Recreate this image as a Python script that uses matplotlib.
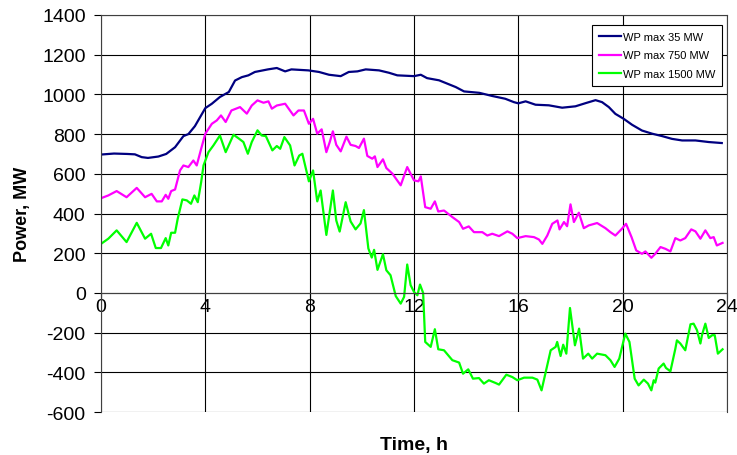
import matplotlib
matplotlib.use('Agg')
import matplotlib.pyplot as plt

plt.rcParams['font.family'] = ['Liberation Sans', 'DejaVu Sans']
plt.rcParams['axes.unicode_minus'] = False

# (hours, MW)
hours_35 = [0, 0.5, 1.0, 1.3, 1.56, 1.8, 2.2, 2.5, 2.84, 3.16, 3.35, 3.6,
            4.0, 4.25, 4.56, 4.9, 5.14, 5.4, 5.65, 5.9, 6.4, 6.74, 7.06,
            7.3, 7.95, 8.36, 8.74, 9.19, 9.5, 9.83, 10.15, 10.66, 11.04,
            11.36, 12.0, 12.26, 12.5, 12.96, 13.28, 13.6, 13.92, 14.5,
            15.0, 15.5, 15.83, 16.0, 16.28, 16.66, 17.17, 17.68, 18.19,
            18.58, 18.96, 19.21, 19.47, 19.72, 20.04, 20.36, 20.74, 21.13,
            21.51, 21.89, 22.28, 22.79, 23.3, 23.8]
mw_35 = [697, 702, 700, 698, 684, 680, 687, 700, 734, 790, 800, 840,
         931, 953, 987, 1012, 1070, 1087, 1096, 1113, 1126, 1133, 1116,
         1126, 1121, 1113, 1099, 1092, 1113, 1116, 1126, 1121, 1109,
         1096, 1092, 1099, 1082, 1071, 1054, 1037, 1015, 1008,
         992, 978, 961, 955, 965, 948, 945, 933, 940,
         956, 971, 961, 936, 902, 877, 847, 818, 802,
         790, 776, 768, 768, 760, 755]

hours_750 = [0, 0.28, 0.6, 0.98, 1.37, 1.69, 1.94, 2.14, 2.33, 2.48, 2.58,
             2.69, 2.84, 3.03, 3.16, 3.35, 3.54, 3.67, 3.84, 4.0, 4.25,
             4.44, 4.6, 4.78, 5.0, 5.33, 5.59, 5.78, 6.0, 6.23, 6.42, 6.55,
             6.74, 7.06, 7.38, 7.57, 7.78, 7.97, 8.13, 8.29, 8.46, 8.64,
             8.77, 8.89, 9.02, 9.19, 9.41, 9.57, 9.76, 9.89, 10.08, 10.21,
             10.4, 10.5, 10.6, 10.81, 10.94, 11.17, 11.49, 11.74, 12.0,
             12.17, 12.26, 12.43, 12.64, 12.8, 12.93, 13.15, 13.47, 13.73,
             13.88, 14.1, 14.3, 14.62, 14.81, 15.0, 15.26, 15.58, 15.77,
             15.96, 16.28, 16.6, 16.79, 16.92, 17.11, 17.3, 17.5, 17.58,
             17.75, 17.87, 18.0, 18.13, 18.32, 18.51, 18.7, 19.02, 19.34,
             19.53, 19.72, 19.97, 20.13, 20.34, 20.52, 20.74, 20.87, 21.1,
             21.25, 21.45, 21.64, 21.83, 22.02, 22.21, 22.4, 22.63, 22.79,
             22.98, 23.17, 23.36, 23.49, 23.61, 23.83]
mw_750 = [477, 491, 513, 482, 529, 482, 499, 461, 461, 494, 474,
          513, 521, 617, 642, 634, 667, 642, 726, 802, 852,
          869, 894, 861, 919, 936, 903, 944, 970, 958, 965, 928,
          944, 953, 894, 919, 919, 852, 877, 802, 824, 709,
          760, 814, 746, 713, 787, 746, 740, 730, 777, 690,
          676, 688, 634, 673, 629, 601, 542, 634, 567,
          562, 587, 432, 424, 461, 410, 415, 382, 357,
          323, 335, 306, 306, 289, 298, 286, 310, 298,
          276, 286, 281, 269, 247, 289, 348, 365, 320,
          357, 336, 446, 357, 404, 326, 340, 352, 326,
          306, 289, 323, 348, 281, 214, 197, 209, 177,
          197, 231, 222, 209, 276, 264, 276, 320, 310,
          273, 315, 276, 281, 239, 252]

hours_1500 = [0, 0.28, 0.6, 0.98, 1.37, 1.69, 1.92, 2.1, 2.3, 2.48, 2.58,
              2.69, 2.84, 2.94, 3.12, 3.29, 3.45, 3.58, 3.71, 3.84, 3.93,
              4.12, 4.31, 4.56, 4.78, 5.08, 5.29, 5.46, 5.63, 5.78, 6.0,
              6.16, 6.32, 6.57, 6.74, 6.87, 7.03, 7.25, 7.42, 7.6, 7.72,
              7.97, 8.13, 8.29, 8.42, 8.64, 8.77, 8.89, 9.02, 9.15, 9.38,
              9.57, 9.76, 9.95, 10.08, 10.25, 10.38, 10.47, 10.6, 10.81,
              10.94, 11.1, 11.3, 11.49, 11.62, 11.74, 11.87, 12.0, 12.13,
              12.23, 12.35, 12.43, 12.64, 12.8, 12.93, 13.15, 13.47, 13.73,
              13.88, 14.08, 14.26, 14.49, 14.68, 14.87, 15.13, 15.26, 15.54,
              15.77, 15.96, 16.22, 16.54, 16.73, 16.89, 17.05, 17.24, 17.43,
              17.49, 17.62, 17.72, 17.84, 17.98, 18.17, 18.33, 18.48, 18.68,
              18.83, 19.02, 19.34, 19.53, 19.69, 19.87, 20.1, 20.26, 20.46,
              20.61, 20.81, 20.97, 21.1, 21.19, 21.25, 21.38, 21.57, 21.66,
              21.83, 22.02, 22.08, 22.21, 22.4, 22.6, 22.72, 22.85, 22.98,
              23.04, 23.17, 23.3, 23.43, 23.53, 23.65, 23.83]
mw_1500 = [247, 273, 315, 256, 353, 273, 298, 226, 226, 276, 239,
           303, 303, 373, 471, 466, 449, 491, 457, 558, 642,
           709, 743, 793, 709, 797, 777, 760, 701, 760, 819,
           793, 790, 718, 740, 726, 785, 743, 642, 692, 701,
           562, 617, 461, 516, 292, 407, 516, 365, 309, 457,
           360, 320, 350, 417, 224, 178, 217, 116, 195,
           114, 89, -16, -54, -20, 143, 39, 5, -12,
           42, 0, -247, -272, -183, -284, -289, -339, -351,
           -407, -385, -432, -429, -457, -440, -454, -462, -412,
           -424, -440, -427, -427, -437, -491, -398, -289, -272,
           -247, -318, -261, -306, -76, -264, -180, -331, -306,
           -331, -306, -314, -339, -373, -331, -205, -247, -432,
           -466, -437, -457, -491, -440, -452, -381, -356, -378,
           -395, -281, -239, -255, -289, -158, -155, -188, -255,
           -213, -155, -227, -213, -213, -306, -284]

labels = ['WP max 35 MW', 'WP max 750 MW', 'WP max 1500 MW']
colors = ['#000080', '#FF00FF', '#00FF00']

fig = plt.figure(figsize=(7.37, 4.56), dpi=100)
ax = fig.add_axes([101 / 737, 43 / 456, 626 / 737, 397 / 456])

series = [(hours_35, mw_35), (hours_750, mw_750), (hours_1500, mw_1500)]
for (h, v), lab, col in zip(series, labels, colors):
    ax.plot(h, v, color=col, lw=1.6, label=lab)

ax.set_xlim(0, 24)
ax.set_ylim(-600, 1400)
ax.set_xticks(range(0, 25, 4))
ax.set_yticks(range(-600, 1401, 200))
ax.grid(True, color='black', lw=0.8)
ax.set_axisbelow(True)

ax.spines['bottom'].set_position(('data', 0))
for s in ['top', 'right', 'left', 'bottom']:
    ax.spines[s].set_linewidth(0.8)
    ax.spines[s].set_color('#404040')
ax.tick_params(axis='y', direction='out', length=5, width=0.8,
               labelsize=14, pad=6)
ax.tick_params(axis='x', direction='out', length=4, width=0.8,
               labelsize=14, pad=0)

ax.set_ylabel('Power, MW', fontsize=13, fontweight='bold', labelpad=8)
fig.text(414 / 737, 1 - 446 / 456, 'Time, h', fontsize=14,
         fontweight='bold', ha='center', va='center')

leg = ax.legend(loc='upper right', bbox_to_anchor=(0.992, 0.975),
                fontsize=8, frameon=True, fancybox=False, framealpha=1,
                edgecolor='black', handlelength=2.0, handletextpad=0.2,
                labelspacing=0.8, borderpad=0.6, borderaxespad=0)
leg.get_frame().set_linewidth(0.8)

fig.savefig('out.png', dpi=100)
